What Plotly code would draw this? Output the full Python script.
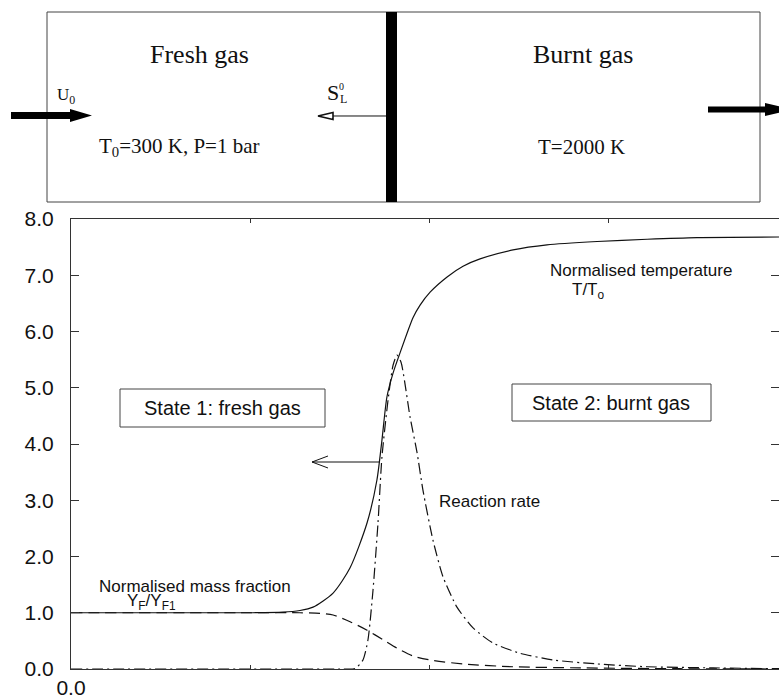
import plotly.graph_objects as go

# ---------------- data (x in axis units, y normalised values) ----------------
temp_x = [0.0, 1.0, 1.184, 1.279, 1.352, 1.464, 1.559, 1.654, 1.709, 1.737, 1.765, 1.799, 1.838,
          1.911, 1.950, 2.006, 2.101, 2.190, 2.285, 2.469, 2.659, 2.939, 3.218, 3.497, 3.955]
temp_y = [1.0, 1.0, 1.01, 1.04, 1.10, 1.35, 1.80, 2.60, 3.36, 4.07, 4.84, 5.26, 5.62,
          6.25, 6.47, 6.70, 6.97, 7.16, 7.29, 7.45, 7.54, 7.60, 7.64, 7.67, 7.68]

mass_x = [0.0, 1.0, 1.279, 1.391, 1.464, 1.559, 1.654, 1.743, 1.821, 1.911, 2.006, 2.190,
          2.469, 2.844, 3.402, 3.955]
mass_y = [1.0, 1.0, 1.0, 0.99, 0.96, 0.84, 0.69, 0.52, 0.37, 0.23, 0.16, 0.09,
          0.04, 0.02, 0.005, 0.0]

rate_x = [0.0, 1.503, 1.587, 1.631, 1.659, 1.687, 1.715, 1.737, 1.771, 1.799, 1.821, 1.844,
          1.894, 1.933, 1.966, 2.022, 2.078, 2.156, 2.246, 2.358, 2.508, 2.693, 2.939,
          3.218, 3.587, 3.955]
rate_y = [0.0, 0.0, 0.01, 0.16, 0.52, 1.40, 2.60, 3.77, 4.78, 5.40, 5.58, 5.45,
          4.48, 3.85, 3.18, 2.29, 1.64, 1.10, 0.73, 0.46, 0.28, 0.16, 0.09,
          0.04, 0.02, 0.005]

y_ticks = [0, 1, 2, 3, 4, 5, 6, 7, 8]
y_tick_labels = ["0.0", "1.0", "2.0", "3.0", "4.0", "5.0", "6.0", "7.0", "8.0"]
x_ticks = [0, 1, 2, 3]
x_tick_labels = ["0.0", "", "", ""]

# ---------------- layout geometry ----------------
W, H = 779, 697
L, R, T, B = 71, 779, 219, 669


def px(x):
    return (x - L) / (R - L)


def py(y):
    return (B - y) / (B - T)


INK = "#111111"
AX = "#333333"

fig = go.Figure()
fig.add_trace(go.Scatter(x=temp_x, y=temp_y, mode="lines",
                         line=dict(color=INK, width=1.2, shape="spline", smoothing=0.7),
                         hoverinfo="skip", showlegend=False))
fig.add_trace(go.Scatter(x=mass_x, y=mass_y, mode="lines",
                         line=dict(color=INK, width=1.2, dash="11px,6px", shape="spline", smoothing=0.7),
                         hoverinfo="skip", showlegend=False))
fig.add_trace(go.Scatter(x=rate_x, y=rate_y, mode="lines",
                         line=dict(color=INK, width=1.2, dash="11px,4px,2px,4px", shape="spline", smoothing=0.6),
                         hoverinfo="skip", showlegend=False))

shapes = []
annotations = []


def rect(x0, y0, x1, y1, lw=1, fill=None, color=AX):
    shapes.append(dict(type="rect", xref="paper", yref="paper",
                       x0=px(x0), x1=px(x1), y0=py(y1), y1=py(y0),
                       line=dict(color=color, width=lw),
                       fillcolor=fill if fill else "rgba(0,0,0,0)", layer="above"))


def path(points, fill=None, lw=1, color=INK, closed=True):
    d = "M " + " L ".join(f"{px(a):.5f},{py(b):.5f}" for a, b in points)
    if closed:
        d += " Z"
    shapes.append(dict(type="path", xref="paper", yref="paper", path=d,
                       line=dict(color=color, width=lw),
                       fillcolor=fill if fill else "rgba(0,0,0,0)", layer="above"))


def text(x, y, s, size, family="Liberation Sans", xanchor="center"):
    annotations.append(dict(xref="paper", yref="paper", x=px(x), y=py(y), text=s,
                            showarrow=False, xanchor=xanchor, yanchor="middle",
                            font=dict(family=family, size=size, color=INK)))


# ---- top schematic ----
rect(47, 12, 760, 202, lw=1, color="#444444")
rect(386, 12, 397, 202, lw=0, fill="#000000", color="#000000")
# U0 thick arrow
path([(11, 112), (70, 112), (70, 109), (92, 115.5), (70, 122), (70, 119), (11, 119)],
     fill="#000000", lw=0)
# outgoing thick arrow (cut by the right edge)
path([(708, 106.5), (765, 106.5), (765, 103), (792, 109.5), (765, 116), (765, 112.5), (708, 112.5)],
     fill="#000000", lw=0)
# S_L thin arrow
path([(386, 116), (332, 116)], lw=1, closed=False)
path([(318, 116), (333, 112.5), (333, 119.5)], fill="#ffffff", lw=1.6)

SERIF = "Liberation Serif"
text(199, 54, "Fresh gas", 26, SERIF)
text(583, 54, "Burnt gas", 26, SERIF)
text(55, 96, "U<sub>0</sub>", 17, SERIF, xanchor="left")
text(325, 92, "S", 22, SERIF, xanchor="left")
text(337, 86, "0", 10, SERIF, xanchor="left")
text(338, 99, "L", 12, SERIF, xanchor="left")
text(97, 147, "T<sub>0</sub>=300 K, P=1 bar", 21, SERIF, xanchor="left")
text(581, 147, "T=2000 K", 21, SERIF)

# ---- chart annotations ----
rect(120, 389, 325, 427, lw=1, color="#444444")
text(222, 408, "State 1: fresh gas", 20)
rect(512, 384, 711, 421, lw=1, color="#444444")
text(611, 403, "State 2: burnt gas", 20)

text(548, 270, "Normalised temperature", 17, xanchor="left")
text(570, 291, "T/T<sub>o</sub>", 17, xanchor="left")
text(437, 501, "Reaction rate", 17, xanchor="left")
text(97, 586, "Normalised mass fraction", 17, xanchor="left")
text(125, 602, "Y<sub>F</sub>/Y<sub>F1</sub>", 17, xanchor="left")

# arrow inside chart (flame propagation direction)
path([(380, 462), (312, 462)], lw=1, closed=False)
path([(328, 456), (312, 462), (328, 468)], lw=1, closed=False)

fig.update_layout(
    width=W, height=H,
    margin=dict(l=L, r=W - R, t=T, b=H - B, autoexpand=False),
    paper_bgcolor="white", plot_bgcolor="white",
    shapes=shapes, annotations=annotations,
    xaxis=dict(range=[0, 3.955], tickvals=x_ticks, ticktext=x_tick_labels,
               ticks="inside", ticklen=4, tickcolor=AX, showline=True, linecolor=AX,
               linewidth=1.2, mirror="ticks", showgrid=False, zeroline=False,
               automargin=False, ticklabelstandoff=0,
               tickfont=dict(family="Liberation Sans", size=21, color=INK)),
    yaxis=dict(range=[0, 8], tickvals=y_ticks, ticktext=y_tick_labels,
               ticks="inside", ticklen=8, tickcolor=AX, showline=True, linecolor=AX,
               linewidth=1.2, mirror="ticks", showgrid=False, zeroline=False,
               automargin=False, ticklabelstandoff=12,
               tickfont=dict(family="Liberation Sans", size=21, color=INK)),
)

fig.write_html("out.html")
